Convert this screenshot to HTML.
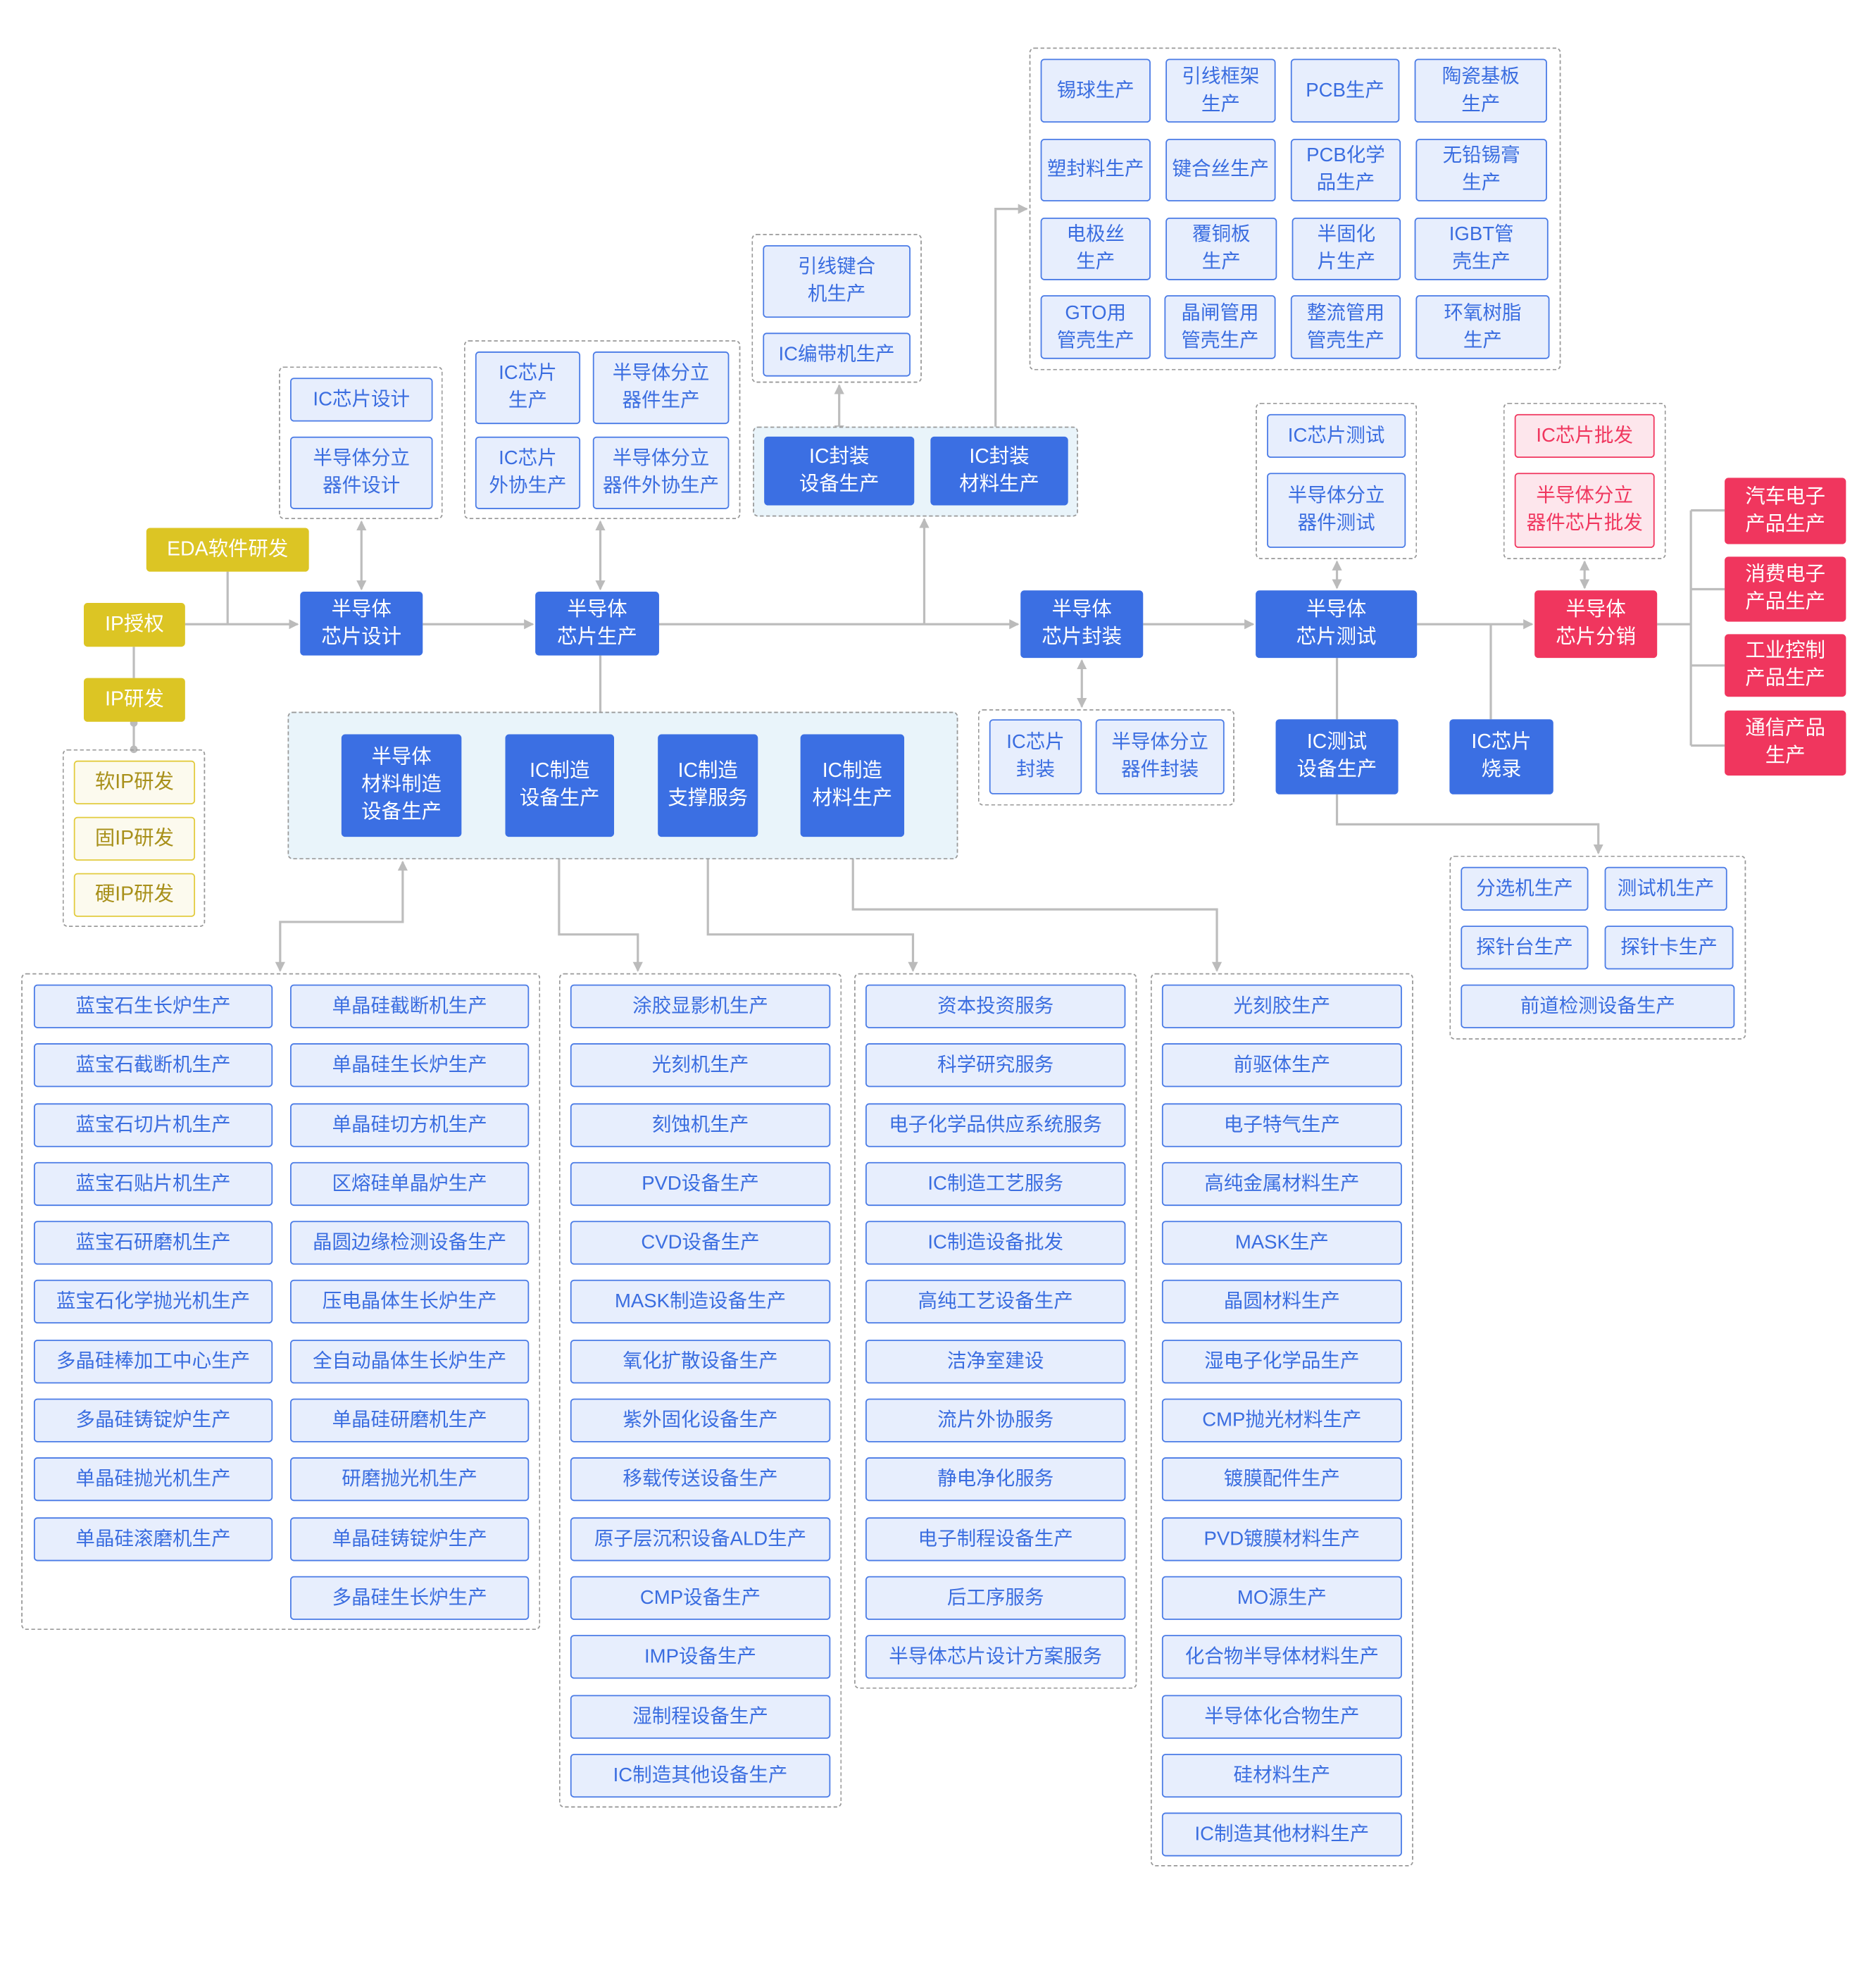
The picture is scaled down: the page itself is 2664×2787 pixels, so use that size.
<!DOCTYPE html>
<html><head><meta charset="utf-8"><style>
html,body{margin:0;padding:0;background:#fff;}
body{width:2664px;height:2786px;overflow:hidden;position:relative;}
#w{position:absolute;left:0;top:0;width:1500px;height:1569px;transform:scale(1.776);transform-origin:0 0;font-family:"Liberation Sans","Noto Sans CJK SC",sans-serif;}
.n{position:absolute;display:flex;align-items:center;justify-content:center;text-align:center;box-sizing:border-box;border-radius:3px;font-size:15.5px;line-height:22px;}
.b{background:#3b6fe3;color:#fff;font-size:16px;}
.l{background:#e7eefd;border:1.5px solid #4a7be6;color:#3a6de0;}
.y{background:#dcc524;color:#fff;font-size:16px;}
.ly{background:#fcfaee;border:1.5px solid #e2cb3e;color:#a8901a;font-size:16px;}
.r{background:#f0365e;color:#fff;font-size:16px;}
.p{background:#fde6ec;border:1.5px solid #f0365e;color:#f0365e;}
.d{position:absolute;border:1.3px dashed #999;border-radius:4px;box-sizing:border-box;}
.f{background:#e9f4fa;}
.c1 .n,.c2 .n,.c3 .n,.c4 .n{height:35px;}
svg{position:absolute;left:0;top:0;}
</style></head><body><div id="w">
<svg width="1500" height="1569" viewBox="0 0 1500 1569">
<defs><marker id="a" markerWidth="8" markerHeight="8" refX="7" refY="4" orient="auto" markerUnits="userSpaceOnUse"><path d="M0,0 L8,4 L0,8z" fill="#bbb"/></marker>
<marker id="s" markerWidth="8" markerHeight="8" refX="1" refY="4" orient="auto" markerUnits="userSpaceOnUse"><path d="M8,0 L0,4 L8,8z" fill="#bbb"/></marker></defs>
<g stroke="#bdbdbd" stroke-width="1.8" fill="none">
<path d="M148,499 H238" marker-end="url(#a)"/>
<path d="M182,457 V499"/>
<path d="M107,517 V542"/>
<path d="M107,577 V599"/>
<path d="M338,499 H426" marker-end="url(#a)"/>
<path d="M527,499 H814" marker-end="url(#a)"/>
<path d="M914,499 H1002" marker-end="url(#a)"/>
<path d="M1133,499 H1225" marker-end="url(#a)"/>
<path d="M289,417 V471" marker-start="url(#s)" marker-end="url(#a)"/>
<path d="M480,417 V471" marker-start="url(#s)" marker-end="url(#a)"/>
<path d="M671,308 V347" marker-start="url(#s)" marker-end="url(#a)"/>
<path d="M739,415 V499" marker-start="url(#s)"/>
<path d="M796,349 V167 H821" marker-end="url(#a)"/>
<path d="M865,528 V565" marker-start="url(#s)" marker-end="url(#a)"/>
<path d="M1069,449 V470" marker-start="url(#s)" marker-end="url(#a)"/>
<path d="M1267,449 V470" marker-start="url(#s)" marker-end="url(#a)"/>
<path d="M1325,499 H1352 M1352,408 V596 M1352,408 H1379 M1352,471 H1379 M1352,532 H1379 M1352,596 H1379"/>
<path d="M1069,526 V575"/>
<path d="M1192,499 V575"/>
<path d="M1069,635 V659 H1278 V682" marker-end="url(#a)"/>
<path d="M480,524 V569"/>
<path d="M322,689 V737 H224 V776" marker-start="url(#s)" marker-end="url(#a)"/>
<path d="M447,669 V747 H510 V776" marker-start="url(#s)" marker-end="url(#a)"/>
<path d="M566,669 V747 H730 V776" marker-start="url(#s)" marker-end="url(#a)"/>
<path d="M682,669 V727 H973 V776" marker-start="url(#s)" marker-end="url(#a)"/>
</g>
<circle cx="107" cy="578" r="3" fill="#bbb"/><circle cx="107" cy="599" r="3" fill="#bbb"/>
</svg>

<div class="n y" style="left:117px;top:422px;width:130px;height:35px">EDA软件研发</div>
<div class="n y" style="left:67px;top:482px;width:81px;height:35px">IP授权</div>
<div class="n y" style="left:67px;top:542px;width:81px;height:35px">IP研发</div>
<div class="d" style="left:50px;top:599px;width:114px;height:142px"></div>
<div class="n ly" style="left:59px;top:608px;width:97px;height:35px">软IP研发</div>
<div class="n ly" style="left:59px;top:653px;width:97px;height:35px">固IP研发</div>
<div class="n ly" style="left:59px;top:698px;width:97px;height:35px">硬IP研发</div>

<div class="n b" style="left:240px;top:473px;width:98px;height:51px">半导体<br>芯片设计</div>
<div class="n b" style="left:428px;top:473px;width:99px;height:51px">半导体<br>芯片生产</div>
<div class="n b" style="left:816px;top:472px;width:98px;height:54px">半导体<br>芯片封装</div>
<div class="n b" style="left:1004px;top:472px;width:129px;height:54px">半导体<br>芯片测试</div>
<div class="n r" style="left:1227px;top:472px;width:98px;height:54px">半导体<br>芯片分销</div>

<div class="d" style="left:223px;top:293px;width:131px;height:122px"></div>
<div class="n l" style="left:232px;top:302px;width:114px;height:35px">IC芯片设计</div>
<div class="n l" style="left:232px;top:349px;width:114px;height:58px">半导体分立<br>器件设计</div>

<div class="d" style="left:371px;top:272px;width:221px;height:143px"></div>
<div class="n l" style="left:380px;top:281px;width:84px;height:58px">IC芯片<br>生产</div>
<div class="n l" style="left:474px;top:281px;width:109px;height:58px">半导体分立<br>器件生产</div>
<div class="n l" style="left:380px;top:349px;width:84px;height:58px">IC芯片<br>外协生产</div>
<div class="n l" style="left:474px;top:349px;width:109px;height:58px">半导体分立<br>器件外协生产</div>

<div class="d" style="left:601px;top:187px;width:136px;height:119px"></div>
<div class="n l" style="left:610px;top:196px;width:118px;height:58px">引线键合<br>机生产</div>
<div class="n l" style="left:610px;top:266px;width:118px;height:35px">IC编带机生产</div>
<div class="d f" style="left:602px;top:341px;width:260px;height:72px"></div>
<div class="n b" style="left:611px;top:349px;width:120px;height:55px">IC封装<br>设备生产</div>
<div class="n b" style="left:744px;top:349px;width:110px;height:55px">IC封装<br>材料生产</div>

<div class="d" style="left:823px;top:38px;width:425px;height:258px"></div>
<div class="n l" style="left:832px;top:47px;width:88px;height:51px">锡球生产</div>
<div class="n l" style="left:932px;top:47px;width:88px;height:51px">引线框架<br>生产</div>
<div class="n l" style="left:1032px;top:47px;width:87px;height:51px">PCB生产</div>
<div class="n l" style="left:1131px;top:47px;width:106px;height:51px">陶瓷基板<br>生产</div>
<div class="n l" style="left:832px;top:111px;width:88px;height:50px">塑封料生产</div>
<div class="n l" style="left:932px;top:111px;width:88px;height:50px">键合丝生产</div>
<div class="n l" style="left:1032px;top:111px;width:88px;height:50px">PCB化学<br>品生产</div>
<div class="n l" style="left:1132px;top:111px;width:105px;height:50px">无铅锡膏<br>生产</div>
<div class="n l" style="left:832px;top:174px;width:88px;height:50px">电极丝<br>生产</div>
<div class="n l" style="left:932px;top:174px;width:89px;height:50px">覆铜板<br>生产</div>
<div class="n l" style="left:1033px;top:174px;width:87px;height:50px">半固化<br>片生产</div>
<div class="n l" style="left:1131px;top:174px;width:107px;height:50px">IGBT管<br>壳生产</div>
<div class="n l" style="left:832px;top:236px;width:88px;height:51px">GTO用<br>管壳生产</div>
<div class="n l" style="left:931px;top:236px;width:89px;height:51px">晶闸管用<br>管壳生产</div>
<div class="n l" style="left:1032px;top:236px;width:88px;height:51px">整流管用<br>管壳生产</div>
<div class="n l" style="left:1132px;top:236px;width:107px;height:51px">环氧树脂<br>生产</div>

<div class="d" style="left:782px;top:567px;width:205px;height:77px"></div>
<div class="n l" style="left:791px;top:575px;width:74px;height:60px">IC芯片<br>封装</div>
<div class="n l" style="left:876px;top:575px;width:103px;height:60px">半导体分立<br>器件封装</div>

<div class="d" style="left:1004px;top:322px;width:129px;height:125px"></div>
<div class="n l" style="left:1013px;top:331px;width:111px;height:35px">IC芯片测试</div>
<div class="n l" style="left:1013px;top:378px;width:111px;height:60px">半导体分立<br>器件测试</div>
<div class="d" style="left:1202px;top:322px;width:130px;height:125px"></div>
<div class="n p" style="left:1211px;top:331px;width:112px;height:35px">IC芯片批发</div>
<div class="n p" style="left:1211px;top:378px;width:112px;height:60px">半导体分立<br>器件芯片批发</div>

<div class="n r" style="left:1379px;top:382px;width:97px;height:53px">汽车电子<br>产品生产</div>
<div class="n r" style="left:1379px;top:445px;width:97px;height:52px">消费电子<br>产品生产</div>
<div class="n r" style="left:1379px;top:507px;width:97px;height:50px">工业控制<br>产品生产</div>
<div class="n r" style="left:1379px;top:568px;width:97px;height:52px">通信产品<br>生产</div>

<div class="n b" style="left:1020px;top:575px;width:98px;height:60px">IC测试<br>设备生产</div>
<div class="n b" style="left:1159px;top:575px;width:83px;height:60px">IC芯片<br>烧录</div>
<div class="d" style="left:1159px;top:684px;width:237px;height:147px"></div>
<div class="n l" style="left:1168px;top:693px;width:102px;height:35px">分选机生产</div>
<div class="n l" style="left:1283px;top:693px;width:98px;height:35px">测试机生产</div>
<div class="n l" style="left:1168px;top:740px;width:102px;height:35px">探针台生产</div>
<div class="n l" style="left:1283px;top:740px;width:103px;height:35px">探针卡生产</div>
<div class="n l" style="left:1168px;top:787px;width:219px;height:35px">前道检测设备生产</div>

<div class="d f" style="left:230px;top:569px;width:536px;height:118px"></div>
<div class="n b" style="left:273px;top:587px;width:96px;height:82px">半导体<br>材料制造<br>设备生产</div>
<div class="n b" style="left:404px;top:587px;width:87px;height:82px">IC制造<br>设备生产</div>
<div class="n b" style="left:526px;top:587px;width:80px;height:82px">IC制造<br>支撑服务</div>
<div class="n b" style="left:640px;top:587px;width:83px;height:82px">IC制造<br>材料生产</div>

<div class="d" style="left:17px;top:778px;width:415px;height:525px"></div>
<div class="c1">
<div class="n l" style="left:27px;top:787px;width:191px">蓝宝石生长炉生产</div>
<div class="n l" style="left:27px;top:834px;width:191px">蓝宝石截断机生产</div>
<div class="n l" style="left:27px;top:882px;width:191px">蓝宝石切片机生产</div>
<div class="n l" style="left:27px;top:929px;width:191px">蓝宝石贴片机生产</div>
<div class="n l" style="left:27px;top:976px;width:191px">蓝宝石研磨机生产</div>
<div class="n l" style="left:27px;top:1023px;width:191px">蓝宝石化学抛光机生产</div>
<div class="n l" style="left:27px;top:1071px;width:191px">多晶硅棒加工中心生产</div>
<div class="n l" style="left:27px;top:1118px;width:191px">多晶硅铸锭炉生产</div>
<div class="n l" style="left:27px;top:1165px;width:191px">单晶硅抛光机生产</div>
<div class="n l" style="left:27px;top:1213px;width:191px">单晶硅滚磨机生产</div>
<div class="n l" style="left:232px;top:787px;width:191px">单晶硅截断机生产</div>
<div class="n l" style="left:232px;top:834px;width:191px">单晶硅生长炉生产</div>
<div class="n l" style="left:232px;top:882px;width:191px">单晶硅切方机生产</div>
<div class="n l" style="left:232px;top:929px;width:191px">区熔硅单晶炉生产</div>
<div class="n l" style="left:232px;top:976px;width:191px">晶圆边缘检测设备生产</div>
<div class="n l" style="left:232px;top:1023px;width:191px">压电晶体生长炉生产</div>
<div class="n l" style="left:232px;top:1071px;width:191px">全自动晶体生长炉生产</div>
<div class="n l" style="left:232px;top:1118px;width:191px">单晶硅研磨机生产</div>
<div class="n l" style="left:232px;top:1165px;width:191px">研磨抛光机生产</div>
<div class="n l" style="left:232px;top:1213px;width:191px">单晶硅铸锭炉生产</div>
<div class="n l" style="left:232px;top:1260px;width:191px">多晶硅生长炉生产</div>
</div>

<div class="d" style="left:447px;top:778px;width:226px;height:667px"></div>
<div class="c2">
<div class="n l" style="left:456px;top:787px;width:208px">涂胶显影机生产</div>
<div class="n l" style="left:456px;top:834px;width:208px">光刻机生产</div>
<div class="n l" style="left:456px;top:882px;width:208px">刻蚀机生产</div>
<div class="n l" style="left:456px;top:929px;width:208px">PVD设备生产</div>
<div class="n l" style="left:456px;top:976px;width:208px">CVD设备生产</div>
<div class="n l" style="left:456px;top:1023px;width:208px">MASK制造设备生产</div>
<div class="n l" style="left:456px;top:1071px;width:208px">氧化扩散设备生产</div>
<div class="n l" style="left:456px;top:1118px;width:208px">紫外固化设备生产</div>
<div class="n l" style="left:456px;top:1165px;width:208px">移载传送设备生产</div>
<div class="n l" style="left:456px;top:1213px;width:208px">原子层沉积设备ALD生产</div>
<div class="n l" style="left:456px;top:1260px;width:208px">CMP设备生产</div>
<div class="n l" style="left:456px;top:1307px;width:208px">IMP设备生产</div>
<div class="n l" style="left:456px;top:1355px;width:208px">湿制程设备生产</div>
<div class="n l" style="left:456px;top:1402px;width:208px">IC制造其他设备生产</div>
</div>

<div class="d" style="left:683px;top:778px;width:226px;height:572px"></div>
<div class="c3">
<div class="n l" style="left:692px;top:787px;width:208px">资本投资服务</div>
<div class="n l" style="left:692px;top:834px;width:208px">科学研究服务</div>
<div class="n l" style="left:692px;top:882px;width:208px">电子化学品供应系统服务</div>
<div class="n l" style="left:692px;top:929px;width:208px">IC制造工艺服务</div>
<div class="n l" style="left:692px;top:976px;width:208px">IC制造设备批发</div>
<div class="n l" style="left:692px;top:1023px;width:208px">高纯工艺设备生产</div>
<div class="n l" style="left:692px;top:1071px;width:208px">洁净室建设</div>
<div class="n l" style="left:692px;top:1118px;width:208px">流片外协服务</div>
<div class="n l" style="left:692px;top:1165px;width:208px">静电净化服务</div>
<div class="n l" style="left:692px;top:1213px;width:208px">电子制程设备生产</div>
<div class="n l" style="left:692px;top:1260px;width:208px">后工序服务</div>
<div class="n l" style="left:692px;top:1307px;width:208px">半导体芯片设计方案服务</div>
</div>

<div class="d" style="left:920px;top:778px;width:210px;height:714px"></div>
<div class="c4">
<div class="n l" style="left:929px;top:787px;width:192px">光刻胶生产</div>
<div class="n l" style="left:929px;top:834px;width:192px">前驱体生产</div>
<div class="n l" style="left:929px;top:882px;width:192px">电子特气生产</div>
<div class="n l" style="left:929px;top:929px;width:192px">高纯金属材料生产</div>
<div class="n l" style="left:929px;top:976px;width:192px">MASK生产</div>
<div class="n l" style="left:929px;top:1023px;width:192px">晶圆材料生产</div>
<div class="n l" style="left:929px;top:1071px;width:192px">湿电子化学品生产</div>
<div class="n l" style="left:929px;top:1118px;width:192px">CMP抛光材料生产</div>
<div class="n l" style="left:929px;top:1165px;width:192px">镀膜配件生产</div>
<div class="n l" style="left:929px;top:1213px;width:192px">PVD镀膜材料生产</div>
<div class="n l" style="left:929px;top:1260px;width:192px">MO源生产</div>
<div class="n l" style="left:929px;top:1307px;width:192px">化合物半导体材料生产</div>
<div class="n l" style="left:929px;top:1355px;width:192px">半导体化合物生产</div>
<div class="n l" style="left:929px;top:1402px;width:192px">硅材料生产</div>
<div class="n l" style="left:929px;top:1449px;width:192px">IC制造其他材料生产</div>
</div>
</div></body></html>
